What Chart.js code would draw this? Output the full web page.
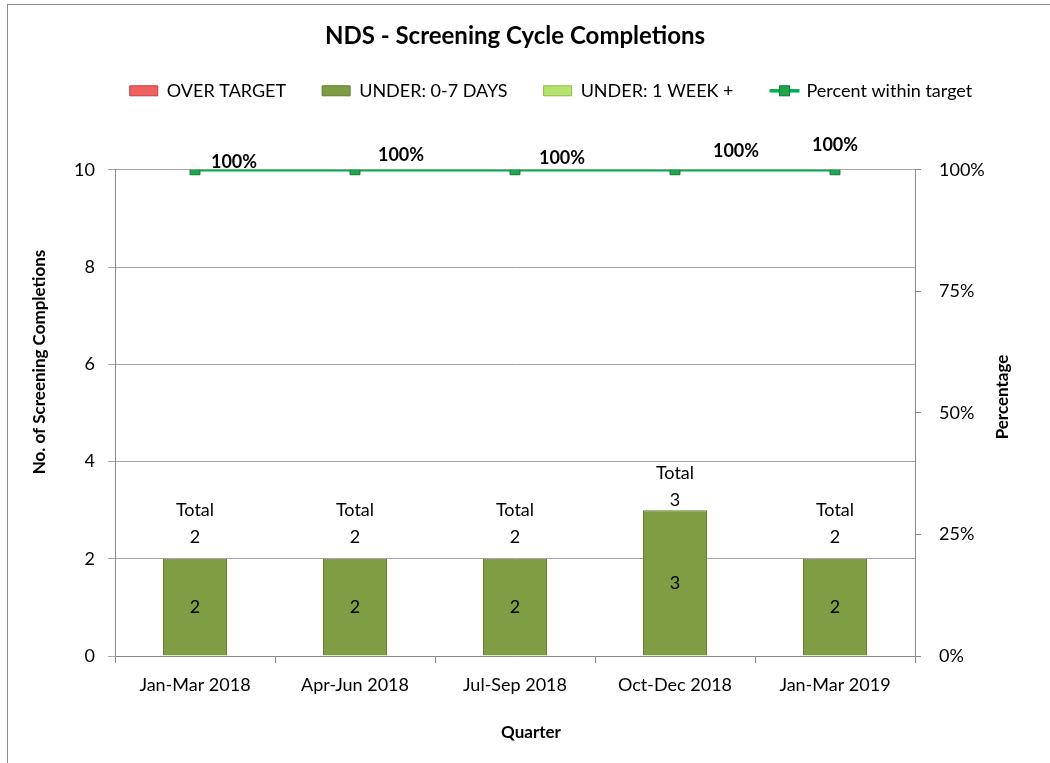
<!DOCTYPE html>
<html>
<head>
<meta charset="utf-8">
<title>NDS - Screening Cycle Completions</title>
<script src="https://cdn.jsdelivr.net/npm/chart.js@4.4.1/dist/chart.umd.min.js"></script>
<style>
    body { margin: 0; background: #fff; overflow: hidden; }
    #wrap { position: relative; width: 1050px; height: 763px; }
    #frame { position: absolute; left: 7px; top: 4px; width: 1100px; height: 820px; border: 1px solid #8a8a8a; pointer-events: none; }
</style>
</head>
<body>
<div id="wrap">
    <canvas id="myChart" width="1050" height="763"></canvas>
    <div id="frame"></div>
</div>
<script>
// Datos
const quarters = ["Jan-Mar 2018", "Apr-Jun 2018", "Jul-Sep 2018", "Oct-Dec 2018", "Jan-Mar 2019"];
const overTarget = [0, 0, 0, 0, 0];
const underZeroToSeven = [2, 2, 2, 3, 2];
const underOneWeekPlus = [0, 0, 0, 0, 0];
const percentWithinTarget = [100, 100, 100, 100, 100];
const countTicks = [0, 2, 4, 6, 8, 10];
const percentTicks = [0, 25, 50, 75, 100];

// Ajustes de posicion de las etiquetas (como en el original)
const pctLabelDx = [39, 46, 47, 61, 0];
const pctLabelDy = [-8, -15, -12, -19, -25];
const totalLabelLift = [22, 22, 22, 10, 22];

const FONT = "Lato, 'Open Sans', sans-serif";

const totals = quarters.map((q, i) => overTarget[i] + underZeroToSeven[i] + underOneWeekPlus[i]);

// Plugin para etiquetas, titulos de ejes y simbolo de la leyenda
const overlayPlugin = {
    id: "overlay",
    afterLayout: (chart) => {
        const lg = chart.legend;
        lg.left += 26; lg.right += 26;
        lg.top -= 60; lg.bottom -= 60;
        const tb = chart.titleBlock;
        tb.left -= 10; tb.right -= 10;
    },
    afterDatasetsDraw: (chart) => {
        const ctx = chart.ctx;
        ctx.save();
        ctx.fillStyle = "#000";
        ctx.textAlign = "center";
        ctx.textBaseline = "middle";

        // valores dentro de las barras
        ctx.font = `18px ${FONT}`;
        const barMeta = chart.getDatasetMeta(1);
        barMeta.data.forEach((bar, i) => {
            if (!underZeroToSeven[i]) return;
            ctx.fillText(String(underZeroToSeven[i]), bar.x, (bar.y + bar.base) / 2);
        });

        // etiquetas "Total"
        const yScale = chart.scales.y;
        barMeta.data.forEach((bar, i) => {
            const top = yScale.getPixelForValue(totals[i]);
            ctx.fillText(String(totals[i]), bar.x, top - totalLabelLift[i]);
            ctx.fillText("Total", bar.x, top - totalLabelLift[i] - 27);
        });

        // porcentajes
        ctx.font = `bold 18px ${FONT}`;
        chart.getDatasetMeta(3).data.forEach((pt, i) => {
            ctx.fillText(percentWithinTarget[i] + "%", pt.x + pctLabelDx[i], pt.y + pctLabelDy[i]);
        });
        ctx.restore();
    },
    afterDraw: (chart) => {
        const ctx = chart.ctx;
        ctx.save();
        ctx.fillStyle = "#000";
        ctx.textAlign = "center";
        ctx.textBaseline = "middle";
        ctx.font = `bold 17px ${FONT}`;

        ctx.save();
        ctx.translate(40, 362);
        ctx.rotate(-Math.PI / 2);
        ctx.fillText("No. of Screening Completions", 0, 0);
        ctx.restore();

        ctx.save();
        ctx.translate(1003, 397);
        ctx.rotate(-Math.PI / 2);
        ctx.fillText("Percentage", 0, 0);
        ctx.restore();

        ctx.fillText("Quarter", 531, 733);

        // simbolo de linea en la leyenda
        const hb = chart.legend.legendHitBoxes[3];
        if (hb) {
            const cy = hb.top + hb.height / 2;
            ctx.strokeStyle = "#00b050";
            ctx.lineWidth = 3.5;
            ctx.beginPath();
            ctx.moveTo(hb.left, cy);
            ctx.lineTo(hb.left + 30, cy);
            ctx.stroke();
            ctx.fillStyle = "#1fa64f";
            ctx.strokeStyle = "#0d7a36";
            ctx.lineWidth = 1;
            ctx.fillRect(hb.left + 10, cy - 5, 10, 10);
            ctx.strokeRect(hb.left + 10, cy - 5, 10, 10);
        }
        ctx.restore();
    }
};

const datasets = [
    {
        label: "OVER TARGET",
        data: overTarget,
        backgroundColor: "#f0605e",
        borderColor: "#c0403f",
        borderWidth: 0,
        stack: "s"
    },
    {
        label: "UNDER: 0-7 DAYS",
        data: underZeroToSeven,
        backgroundColor: "#7f9d42",
        borderColor: "#637e2e",
        borderWidth: 1,
        stack: "s"
    },
    {
        label: "UNDER: 1 WEEK +",
        data: underOneWeekPlus,
        backgroundColor: "#b6e26e",
        borderColor: "#8cb84a",
        borderWidth: 0,
        stack: "s"
    },
    {
        type: "line",
        label: "Percent within target",
        data: percentWithinTarget,
        yAxisID: "y1",
        borderColor: "#00b050",
        borderWidth: 3.5,
        pointStyle: "rect",
        pointRadius: 7,
        pointBackgroundColor: "#1fa64f",
        pointBorderColor: "#0d7a36",
        pointBorderWidth: 1
    }
];

const config = {
    type: "bar",
    data: { labels: quarters, datasets: datasets },
    options: {
        responsive: false,
        animation: false,
        barPercentage: 0.4,
        categoryPercentage: 1.0,
        layout: { padding: 0 },
        plugins: {
            tooltip: { enabled: false },
            title: {
                display: true,
                text: "NDS - Screening Cycle Completions",
                color: "#000",
                font: { family: FONT, size: 24, weight: "bold" },
                padding: { top: 22, bottom: 55 }
            },
            legend: {
                display: true,
                labels: {
                    boxWidth: 28,
                    boxHeight: 10,
                    padding: 36,
                    color: "#000",
                    font: { family: FONT, size: 18 },
                    generateLabels: (chart) => {
                        const items = Chart.defaults.plugins.legend.labels.generateLabels(chart);
                        items.forEach((it) => {
                            if (it.datasetIndex === 3) {
                                it.fillStyle = "rgba(0,0,0,0)";
                                it.strokeStyle = "rgba(0,0,0,0)";
                                it.lineWidth = 0;
                            } else {
                                it.lineWidth = 1;
                                it.strokeStyle = datasets[it.datasetIndex].borderColor;
                            }
                        });
                        return items;
                    }
                },
                onClick: () => {}
            }
        },
        scales: {
            x: {
                stacked: true,
                grid: { display: true, drawOnChartArea: false, offset: true, color: "#8a8a8a", tickLength: 7 },
                border: { color: "#8a8a8a" },
                ticks: { color: "#000", padding: 11, font: { family: FONT, size: 18 } },
                afterFit: (scale) => { scale.height = 107; }
            },
            y: {
                stacked: true,
                position: "left",
                min: countTicks[0],
                max: countTicks[countTicks.length - 1],
                afterBuildTicks: (scale) => { scale.ticks = countTicks.map((v) => ({ value: v })); },
                grid: { color: "#a6a6a6", tickLength: 7 },
                border: { color: "#8a8a8a" },
                ticks: { color: "#000", padding: 13, font: { family: FONT, size: 18 } },
                afterFit: (scale) => { scale.width = 115; }
            },
            y1: {
                position: "right",
                min: percentTicks[0],
                max: percentTicks[percentTicks.length - 1],
                afterBuildTicks: (scale) => { scale.ticks = percentTicks.map((v) => ({ value: v })); },
                grid: { drawOnChartArea: false, color: "#8a8a8a", tickLength: 6 },
                border: { color: "#8a8a8a" },
                ticks: { color: "#000", padding: 18, font: { family: FONT, size: 18 }, callback: (v) => v + "%" },
                afterFit: (scale) => { scale.width = 135; }
            }
        }
    },
    plugins: [overlayPlugin]
};

const myChart = new Chart(document.querySelector("#myChart"), config);
</script>
</body>
</html>
